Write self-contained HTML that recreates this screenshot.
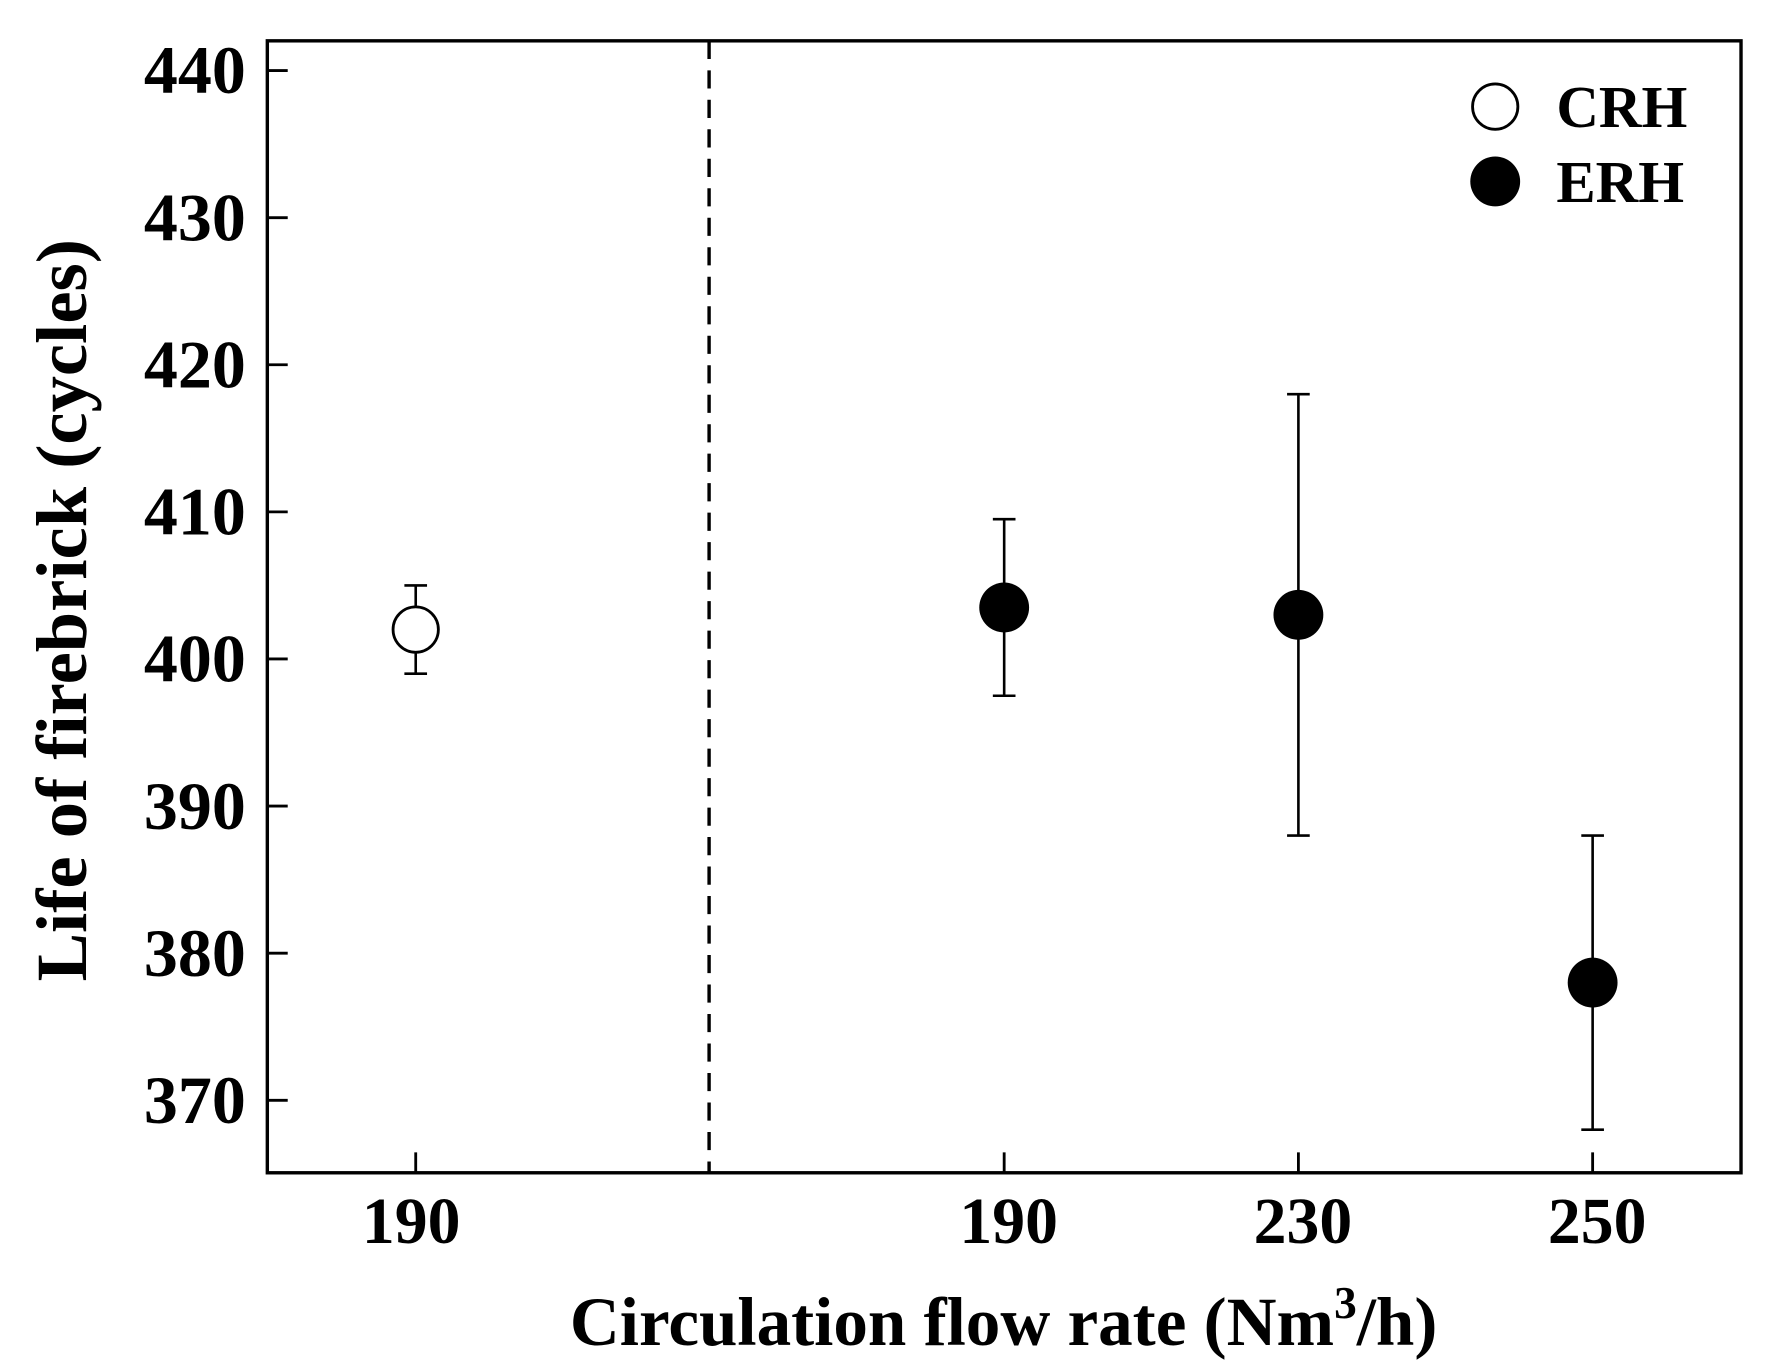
<!DOCTYPE html>
<html><head><meta charset="utf-8"><style>
html,body{margin:0;padding:0;background:#fff;}
svg{display:block;}
text{font-family:"Liberation Serif",serif;font-weight:bold;fill:#000;}
</style></head><body>
<svg id="chart" width="1775" height="1369" viewBox="0 0 1567 1207" preserveAspectRatio="none" xmlns="http://www.w3.org/2000/svg">
<rect x="236" y="36" width="1301" height="998" fill="none" stroke="#000" stroke-width="3"/>
<line x1="626" y1="36" x2="626" y2="1034" stroke="#000" stroke-width="3" stroke-dasharray="16,10"/>
<g id="yticks"></g>
<g id="xticks"></g>
<g id="marks"></g>
<text x="886" y="1186" font-size="61" text-anchor="middle">Circulation flow rate (Nm<tspan dy="-24" font-size="40">3</tspan><tspan dy="24">/h)</tspan></text>
<text transform="translate(76,538) rotate(-90)" font-size="64" text-anchor="middle">Life of firebrick (cycles)</text>
<g>
<circle cx="1320" cy="94" r="20" fill="#fff" stroke="#000" stroke-width="2.5"/>
<text x="1374" y="112" font-size="52">CRH</text>
<circle cx="1320" cy="160" r="22" fill="#000"/>
<text x="1374" y="178" font-size="52">ERH</text>
</g>
</svg>
<script>
const yTicks=[370,380,390,400,410,420,430,440];
const xLabels=["190","","190","230","250"];
const crhPos=[0]; const crhVals=[402]; const crhLo=[399]; const crhHi=[405];
const erhPos=[2,3,4]; const erhVals=[403.5,403,378]; const erhLo=[397.5,388,368]; const erhHi=[409.5,418,388];
const NS="http://www.w3.org/2000/svg";
function y(v){return 581-(v-400)*12.97;}
function x(i){return 367+259.75*i;}
function mk(tag,attrs,parent){const e=document.createElementNS(NS,tag);for(const k in attrs)e.setAttribute(k,attrs[k]);parent.appendChild(e);return e;}
const yg=document.getElementById('yticks');
yTicks.forEach(v=>{
 const l=mk('line',{x1:236,x2:254,y1:y(v),y2:y(v),stroke:'#000','stroke-width':2.5},yg);
 
 
 const t=mk('text',{x:217,y:y(v)+20,'font-size':60,'text-anchor':'end'},yg);
 t.textContent=v;
 
 
});
const xg=document.getElementById('xticks');
xLabels.forEach((s,i)=>{
 if(!s)return;
 const l=mk('line',{x1:x(i),x2:x(i),y1:1016,y2:1034,stroke:'#000','stroke-width':2.5},xg);
 
 
 const t=mk('text',{x:x(i)+(i===0?-4:4),y:1096,'font-size':58,'text-anchor':'middle'},xg);
 t.textContent=s;
 
 
});
const mg=document.getElementById('marks');
function series(pos,vals,lo,hi,filled,name){
 pos.forEach((p,i)=>{
  const cx=x(p);
  const g=mk('g',{},mg);
  
  
  mk('line',{x1:cx,x2:cx,y1:y(lo[i]),y2:y(hi[i]),stroke:'#000','stroke-width':2.3},g);
  mk('line',{x1:cx-10,x2:cx+10,y1:y(lo[i]),y2:y(lo[i]),stroke:'#000','stroke-width':2.3},g);
  mk('line',{x1:cx-10,x2:cx+10,y1:y(hi[i]),y2:y(hi[i]),stroke:'#000','stroke-width':2.3},g);
  const c=mk('circle',{cx:cx,cy:y(vals[i]),r:filled?22:20,fill:filled?'#000':'#fff',stroke:'#000','stroke-width':filled?0:2.5},mg);
  
  
 });
}
series(crhPos,crhVals,crhLo,crhHi,false,'crh');
series(erhPos,erhVals,erhLo,erhHi,true,'erh');
</script>
</body></html>
